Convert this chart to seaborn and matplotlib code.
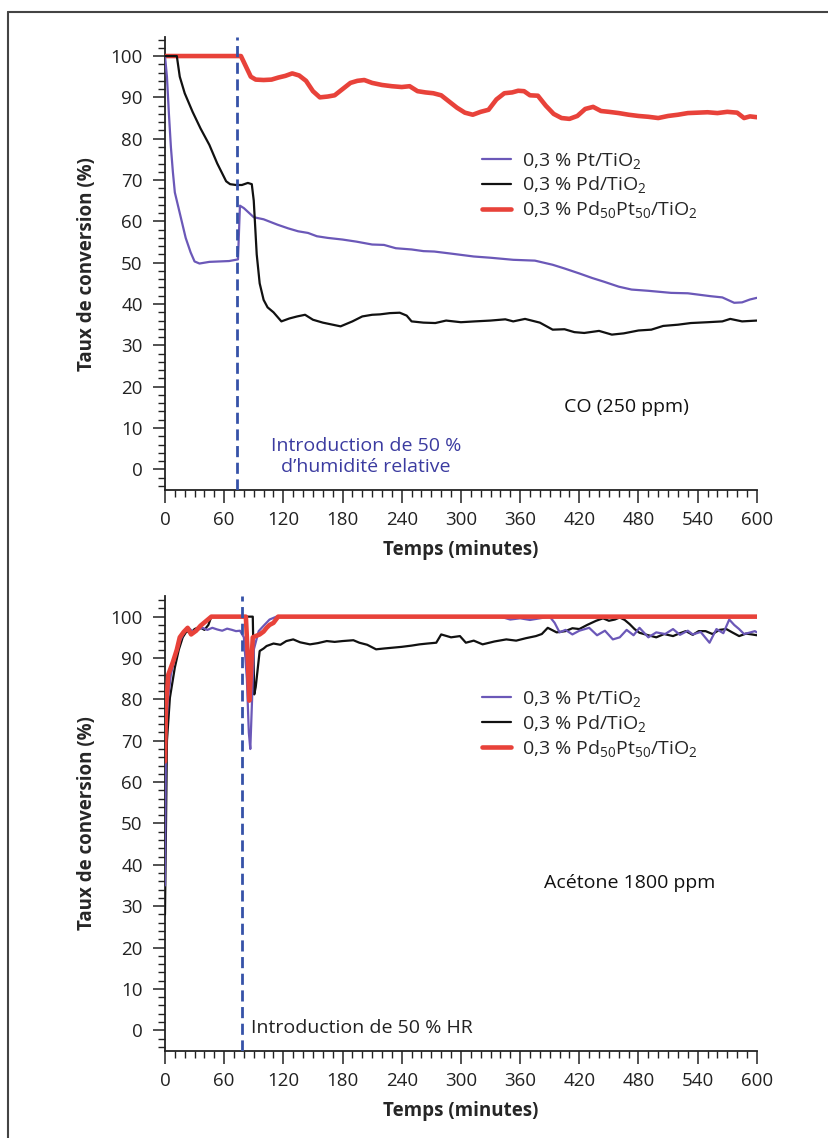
import numpy as np
import seaborn as sns
import matplotlib.pyplot as plt
from matplotlib.lines import Line2D
from matplotlib.ticker import MultipleLocator

# ---- CO panel (top) ----
t_top_pt = [0, 2, 4, 6, 8, 10, 13, 17, 21, 26, 30, 35, 45, 55, 65, 74, 76, 80, 90, 100,
            114, 125, 135, 145, 154, 165, 180, 194, 210, 222, 234, 250, 262, 273, 290, 313,
            330, 353, 375, 393, 405, 420, 433, 445, 460, 473, 490, 513, 530, 553, 565, 577,
            585, 593, 600]
v_top_pt = [100, 95, 86, 78, 72, 67, 64, 60, 56, 52.5, 50.3, 49.8, 50.2, 50.3, 50.4, 50.8,
            63.8, 63.2, 61, 60.5, 59.2, 58.3, 57.6, 57.2, 56.4, 56, 55.6, 55.1, 54.4, 54.3,
            53.5, 53.2, 52.8, 52.7, 52.2, 51.5, 51.2, 50.7, 50.5, 49.5, 48.6, 47.4, 46.3,
            45.4, 44.2, 43.5, 43.2, 42.7, 42.6, 41.9, 41.6, 40.3, 40.4, 41.1, 41.5]

t_top_pd = [0, 12, 15, 20, 28, 36, 45, 53, 62, 66, 72, 78, 84, 88, 90, 93, 96, 100, 104, 110,
            118, 126, 134, 142, 150, 160, 170, 178, 190, 200, 210, 218, 228, 238, 245, 250,
            262, 274, 285, 300, 314, 330, 345, 353, 365, 380, 393, 405, 415, 425, 440, 453,
            465, 480, 493, 505, 520, 533, 550, 565, 573, 585, 600]
v_top_pd = [100, 100, 95, 91, 86.5, 82.5, 78.5, 74, 69.7, 69, 68.8, 68.8, 69.3, 69, 65, 52,
            45, 41, 39.2, 38, 35.8, 36.5, 37, 37.4, 36.2, 35.5, 35, 34.6, 35.8, 37, 37.4,
            37.5, 37.8, 37.9, 37.2, 35.8, 35.5, 35.4, 36, 35.6, 35.8, 36, 36.3, 35.8, 36.4,
            35.5, 33.8, 33.9, 33.2, 33, 33.5, 32.6, 32.9, 33.6, 33.8, 34.7, 35, 35.4, 35.6,
            35.8, 36.4, 35.8, 36]

t_top_pdpt = [0, 77, 80, 83, 87, 92, 100, 108, 115, 122, 129, 136, 143, 150, 157, 165, 172,
              180, 188, 195, 202, 210, 220, 230, 240, 248, 256, 264, 272, 280, 288, 296, 304,
              312, 320, 328, 336, 344, 352, 358, 364, 370, 378, 386, 394, 402, 410, 418, 426,
              434, 442, 450, 460, 470, 480, 490, 500, 510, 520, 530, 540, 550, 560, 570, 580,
              587, 593, 600]
v_top_pdpt = [100, 100, 98.5, 97, 95, 94.3, 94.2, 94.3, 94.8, 95.2, 95.8, 95.3, 94, 91.5, 90,
              90.2, 90.5, 92, 93.5, 94, 94.2, 93.5, 93, 92.7, 92.5, 92.7, 91.5, 91.2, 91, 90.5,
              89, 87.5, 86.3, 85.8, 86.5, 87, 89.5, 91, 91.2, 91.6, 91.5, 90.5, 90.4, 88, 86,
              85, 84.8, 85.5, 87.2, 87.7, 86.7, 86.5, 86.2, 85.8, 85.5, 85.3, 85, 85.5, 85.8,
              86.2, 86.3, 86.4, 86.2, 86.5, 86.3, 85, 85.4, 85.2]

# ---- Acetone panel (bottom) ----
t_bot_pt = [0, 1, 3, 6, 10, 15, 20, 24, 28, 33, 38, 43, 48, 53, 58, 63, 68, 72, 76, 80,
            83, 85, 86.5, 88, 90, 95, 100, 106, 113, 340, 350, 360, 370, 380, 390, 395, 400,
            406, 413, 420, 430, 438, 446, 454, 461, 468, 475, 481, 490, 498, 507, 515, 522,
            530, 535, 543, 552, 559, 566, 572, 577, 582, 587, 592, 598, 600]
v_bot_pt = [35, 72, 80, 86, 90, 94, 96.5, 97.3, 96.4, 96.8, 97.3, 96.8, 97.3, 96.9, 96.6,
            97.1, 96.8, 96.5, 96.6, 95, 85, 72, 68, 78, 92, 96.5, 97.8, 99.3, 100, 100, 99.3,
            99.6, 99.2, 99.6, 100, 98.5, 96.2, 96.8, 95.7, 96.6, 97.3, 95.5, 96.6, 94.5, 95,
            96.8, 95.5, 97.3, 95, 96.2, 95.8, 97, 95.6, 96.6, 95.7, 96.3, 93.7, 97, 96, 99.3,
            98, 97, 95.8, 96.1, 96.5, 96.2]

t_bot_pd = [0, 2, 5, 10, 14, 18, 22, 26, 30, 35, 40, 44, 47, 89, 90.5, 92, 96, 100, 103,
            110, 117, 123, 130, 137, 147, 155, 164, 172, 180, 191, 197, 205, 214, 222, 231,
            240, 250, 258, 266, 275, 280, 290, 299, 305, 313, 322, 334, 346, 356, 366, 376,
            382, 388, 397, 406, 413, 420, 428, 437, 444, 450, 456, 461, 466, 471, 476, 481,
            490, 498, 506, 515, 522, 528, 535, 541, 548, 555, 562, 569, 575, 582, 589, 595, 600]
v_bot_pd = [28, 70, 80.4, 87.7, 92, 95, 96.5, 96, 97, 97.5, 96.8, 98, 100, 100, 81.2, 83,
            91.7, 92.3, 92.9, 93.5, 93.2, 94.1, 94.5, 93.8, 93.3, 93.6, 94.1, 93.9, 94.1,
            94.3, 93.7, 93.2, 92.1, 92.3, 92.5, 92.7, 93, 93.3, 93.5, 93.7, 95.7, 95, 95.3,
            93.7, 94.2, 93.3, 94, 94.5, 94.2, 94.8, 95.3, 95.8, 97.3, 96.2, 96.5, 97.2, 97,
            98, 99, 99.6, 99, 99.3, 99.8, 99.2, 98.2, 97, 96.1, 95.5, 95, 95.8, 95.3, 96,
            96.5, 95.6, 96.5, 96.5, 95.8, 96.8, 97, 96.2, 95.3, 95.9, 95.7, 95.5]

t_bot_pdpt = [0, 1, 3.4, 8, 12, 15, 19, 23, 26.5, 31.6, 36, 42, 47, 82, 84, 85.5, 87, 89,
              92, 96, 100, 103, 106, 110, 114.7, 600]
v_bot_pdpt = [65, 78, 86, 89, 92, 95, 96.3, 97.3, 95.7, 96.6, 97.8, 99, 100, 100, 90, 79.7,
              86, 95, 95.3, 95.7, 96.4, 97.3, 98, 98.5, 100, 100]

labels = [r"0,3 % Pt/TiO$_2$", r"0,3 % Pd/TiO$_2$", r"0,3 % Pd$_{50}$Pt$_{50}$/TiO$_2$"]
colors = ["#6b58b8", "#111111", "#e8423a"]
widths = [1.6, 1.6, 3.3]
humid_top = 73
humid_bot = 78

sns.set_style("ticks")
plt.rcParams['font.family'] = ['Open Sans', 'DejaVu Sans']
plt.rcParams['mathtext.fontset'] = 'custom'
plt.rcParams['mathtext.rm'] = 'Open Sans'
plt.rcParams['mathtext.it'] = 'Open Sans:italic'
plt.rcParams['mathtext.bf'] = 'Open Sans:bold'

fig = plt.figure(figsize=(8.29, 11.38), dpi=100)
ax1 = fig.add_axes([0.199, 0.5694, 0.714, 0.3977])
ax2 = fig.add_axes([0.199, 0.0765, 0.714, 0.3998])


def draw_panel(ax, series, order, vline_x, ylim, legend_anchor):
    lines = {}
    for i in order:
        t, v = series[i]
        sns.lineplot(x=t, y=v, ax=ax, color=colors[i], lw=widths[i],
                     estimator=None, sort=False, zorder=3 + order.index(i))
        lines[i] = ax.lines[-1]
    ax.axvline(vline_x, color="#3552a8", lw=2, dashes=(4, 2), zorder=10)
    ax.set_xlim(0, 600)
    ax.set_ylim(*ylim)
    ax.xaxis.set_major_locator(MultipleLocator(60))
    ax.xaxis.set_minor_locator(MultipleLocator(10))
    ax.set_yticks(np.arange(0, 101, 10))
    ax.yaxis.set_minor_locator(MultipleLocator(2))
    ax.tick_params(which='major', direction='out', length=9, width=1.1,
                   labelsize=13.5, colors='#222222')
    ax.tick_params(which='minor', direction='out', length=5, width=1.0, colors='#222222')
    ax.tick_params(axis='y', pad=7)
    ax.tick_params(axis='x', pad=6)
    for s in ['top', 'right']:
        ax.spines[s].set_visible(False)
    for s in ['left', 'bottom']:
        ax.spines[s].set_linewidth(1.3)
        ax.spines[s].set_color('#222222')
    ax.set_xlabel("Temps (minutes)", fontsize=13.5, fontweight='bold', labelpad=8)
    ax.set_ylabel("Taux de conversion (%)", fontsize=13.5, fontweight='bold', labelpad=10)
    ax.legend([lines[0], lines[1], lines[2]], labels, loc='upper left',
              bbox_to_anchor=legend_anchor, frameon=False, fontsize=14,
              handlelength=1.5, handletextpad=0.6, labelspacing=0.2,
              borderpad=0, borderaxespad=0)


draw_panel(ax1, [(t_top_pt, v_top_pt), (t_top_pd, v_top_pd), (t_top_pdpt, v_top_pdpt)],
           [2, 0, 1], humid_top, (-5, 104.5), (0.535, 0.75))
ax1.text(468, 15, "CO (250 ppm)", fontsize=14, ha='center', va='center', color='#111111')
ax1.text(204, 3.2, "Introduction de 50 %\nd’humidité relative", fontsize=14,
         ha='center', va='center', color='#3b3ba0', linespacing=1.2)

draw_panel(ax2, [(t_bot_pt, v_bot_pt), (t_bot_pd, v_bot_pd), (t_bot_pdpt, v_bot_pdpt)],
           [1, 0, 2], humid_bot, (-5, 105), (0.535, 0.795))
ax2.text(471, 35.7, "Acétone 1800 ppm", fontsize=14, ha='center', va='center',
         color='#111111')
ax2.text(87, 0.5, "Introduction de 50 % HR", fontsize=14, ha='left', va='center',
         color='#222222')

# outer frame (top and left edges)
fig.add_artist(Line2D([8 / 829, 1], [1 - 12 / 1138, 1 - 12 / 1138],
                      transform=fig.transFigure, color='#444444', lw=1.5))
fig.add_artist(Line2D([8 / 829, 8 / 829], [1 - 12 / 1138, 0],
                      transform=fig.transFigure, color='#444444', lw=1.5))

fig.savefig("out.png", dpi=100)
